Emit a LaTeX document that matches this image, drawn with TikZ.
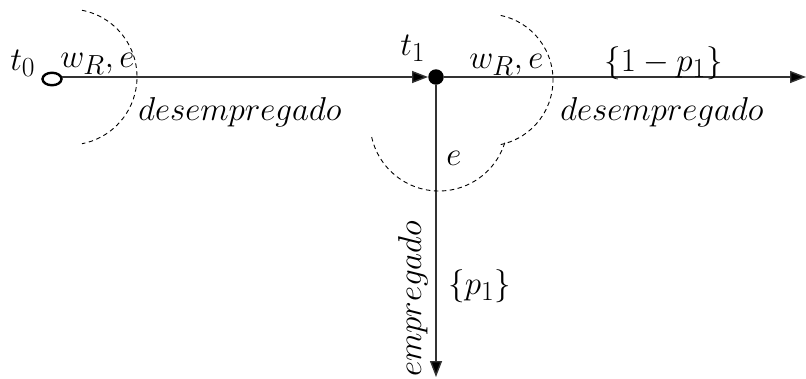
\documentclass[tikz,border=0pt]{standalone}
\usetikzlibrary{arrows.meta,shapes.geometric}
\begin{document}
\begin{tikzpicture}[x=1pt,y=-1pt,
  conn/.style={line width=1.4pt, draw=black!80, -{Triangle[length=16pt,width=12pt,fill=black]}},
  arcd/.style={line width=0.9pt, dash pattern=on 4.5pt off 3.5pt},
  lbl/.style={font=\Huge, scale=1.33, inner sep=0pt, anchor=base west}]
\useasboundingbox (0,0) rectangle (806,378);
% nodes
\node[ellipse, draw, line width=2.4pt, minimum width=19pt, minimum height=12.5pt, inner sep=0pt] (t0) at (52,79) {};
\node[circle, fill=black, minimum size=15.5pt, inner sep=0pt] (t1) at (436,77) {};
\coordinate (rend) at (806,77);
\coordinate (bend) at (436,377);
\coordinate (t0r) at (61.5,77);
% connectors
\draw[conn] (t0r) -- (t1);
\draw[conn] (t1) -- (rend);
\draw[conn] (t1) -- (bend);
% dashed arcs
\coordinate (cl) at (69,77);
\coordinate (cr) at (487,80);
\coordinate (cb) at (439,122);
\draw[arcd] (cl) ++(79:68pt) arc[start angle=79, end angle=-79, radius=68pt];
\draw[arcd] (cr) ++(78:66pt) arc[start angle=78, end angle=-78, radius=66pt];
\draw[arcd] (cb) ++(192.6:69pt) arc[start angle=192.6, end angle=343, radius=69pt];
% labels
\node[lbl] (lt0) at (10,70) {$t_0$};
\node[lbl] (lw0) at (60,67) {$w_R,e$};
\node[lbl] (ld0) at (138,120) {$desempregado$};
\node[lbl] (lt1) at (400,55) {$t_1$};
\node[lbl] (lw1) at (469,68) {$w_R,e$};
\node[lbl] (lp1) at (604,71) {$\{1-p_1\}$};
\node[lbl] (ld1) at (560,120) {$desempregado$};
\node[lbl] (le) at (446,165) {$e$};
\node[lbl] (lp) at (448,294) {$\{p_1\}$};
\node[lbl, rotate=90] (lemp) at (421,377) {$empregado$};
\end{tikzpicture}
\end{document}
